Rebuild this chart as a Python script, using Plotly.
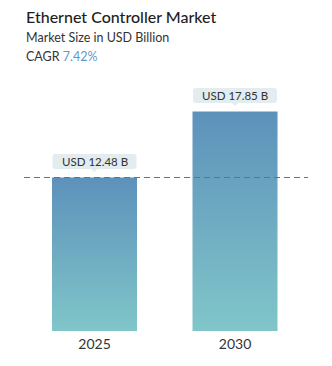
import plotly.graph_objects as go

# Market size values (USD billion)
years = ["2025", "2030"]
market_size = [12.48, 17.85]
value_labels = ["USD 12.48 B", "USD 17.85 B"]

title_text = "Ethernet Controller Market"
subtitle_text = "Market Size in USD Billion"
cagr_label = "CAGR"
cagr_value = "7.42%"

FONT = "Lato, 'Open Sans', sans-serif"
W, H = 332, 366
M_T, M_B = 70, 35
PLOT_H = H - M_T - M_B
BAR_HALF = 0.3025


def py(px_from_top):
    """Convert a pixel row (from top of page) to paper y."""
    return (H - M_B - px_from_top) / PLOT_H


fig = go.Figure()

for i, v in enumerate(market_size):
    xs = [i - BAR_HALF, i + BAR_HALF, i + BAR_HALF, i - BAR_HALF, i - BAR_HALF]
    ys = [0, 0, v, v, 0]
    fig.add_trace(go.Scatter(
        x=xs, y=ys, mode="lines", fill="toself",
        line=dict(width=0, color="rgba(0,0,0,0)"),
        fillgradient=dict(type="vertical",
                          colorscale=[[0, "#80c6c9"], [1, "#5d91bb"]]),
        hoverinfo="skip", showlegend=False,
    ))

# Value callouts: rounded box with a small pointer, anchored at bar top
box_path = (
    "M -39,8.5 L -3,8.5 L 0,5.5 L 3,8.5 L 39,8.5 "
    "Q 42,8.5 42,11.5 L 42,20.5 Q 42,23.5 39,23.5 "
    "L -39,23.5 Q -42,23.5 -42,20.5 L -42,11.5 Q -42,8.5 -39,8.5 Z"
)
for i, (v, lab) in enumerate(zip(market_size, value_labels)):
    fig.add_shape(
        type="path", path=box_path,
        xref="x", yref="y", xsizemode="pixel", ysizemode="pixel",
        xanchor=i, yanchor=v,
        fillcolor="#e3ecef", line=dict(width=0), layer="above",
    )
    fig.add_annotation(
        x=i, y=v, xref="x", yref="y", text=lab, showarrow=False,
        yshift=16, font=dict(family=FONT, size=11.5, color="#333333"),
    )

# Dashed reference line at the 2025 level
fig.add_shape(
    type="line", xref="paper", yref="y",
    x0=24 / W, x1=308 / W, y0=market_size[0], y1=market_size[0],
    line=dict(color="#707070", width=1, dash="6px,4px"), layer="above",
)

# Header texts
fig.add_annotation(
    xref="paper", yref="paper", x=24 / W, y=py(16), xanchor="left", yanchor="middle",
    text=title_text, showarrow=False,
    font=dict(family=FONT, size=16, color="#1e1e1e", weight=500),
)
fig.add_annotation(
    xref="paper", yref="paper", x=24 / W, y=py(37.5), xanchor="left", yanchor="middle",
    text=subtitle_text, showarrow=False,
    font=dict(family=FONT, size=12.5, color="#333333"),
)
fig.add_annotation(
    xref="paper", yref="paper", x=24 / W, y=py(56.5), xanchor="left", yanchor="middle",
    text=f"{cagr_label} <span style='color:#5b9bd0'>{cagr_value}</span>", showarrow=False,
    font=dict(family=FONT, size=12.5, color="#333333"),
)

x_lo = -94.5 / 140.5
x_hi = (W - 94.5) / 140.5

fig.update_layout(
    width=W, height=H,
    margin=dict(l=0, r=0, t=M_T, b=M_B, pad=0),
    paper_bgcolor="white", plot_bgcolor="white",
    xaxis=dict(
        range=[x_lo, x_hi], tickvals=list(range(len(years))), ticktext=years,
        showgrid=False, zeroline=False, showline=False, ticks="",
        ticklabelstandoff=3,
        tickfont=dict(family=FONT, size=14, color="#333333"), fixedrange=True,
    ),
    yaxis=dict(
        range=[0, PLOT_H / 12.30], visible=False, showgrid=False, zeroline=False,
        fixedrange=True,
    ),
    showlegend=False,
)

fig.write_html("out.html")
